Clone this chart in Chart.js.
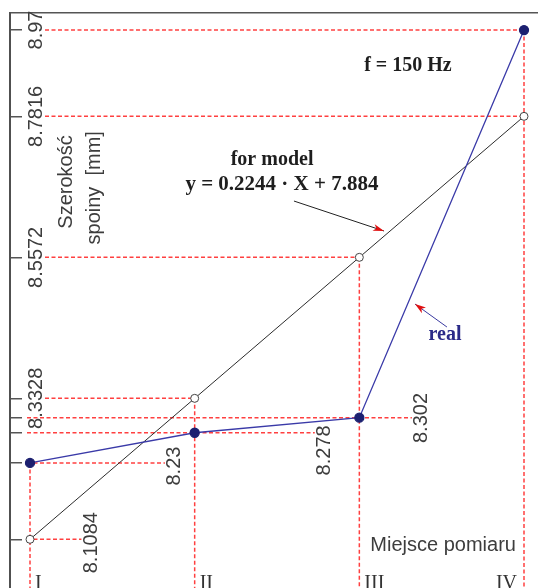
<!DOCTYPE html>
<html>
<head>
<meta charset="utf-8">
<script src="https://cdn.jsdelivr.net/npm/chart.js@4.4.1/dist/chart.umd.min.js"></script>
<style>
  html, body { margin: 0; padding: 0; overflow: hidden; background: #fff; }
</style>
</head>
<body>
<canvas id="weldChart" width="538" height="610"></canvas>
<script>
const places = ['I', 'II', 'III', 'IV'];
const placeX = [1, 2, 3, 4];
const modelWidth = [8.1084, 8.3328, 8.5572, 8.7816];
const realWidth = [8.23, 8.278, 8.302, 8.97];
const yTicks = [8.1084, 8.23, 8.278, 8.302, 8.3328, 8.5572, 8.7816, 8.97];
const axisLabelled = [8.3328, 8.5572, 8.7816, 8.97];

// values written next to the end of their guide line (x, y in data units)
const sideNotes = [
  { value: 8.1084, x: 1.373, y: 8.103 },
  { value: 8.23, x: 1.88, y: 8.225 },
  { value: 8.278, x: 2.79, y: 8.25 },
  { value: 8.302, x: 3.38, y: 8.3015 }
];

const SANS = '"Liberation Sans", Arial, sans-serif';
const SERIF = '"Liberation Serif", "Times New Roman", serif';

const notes = [
  { text: 'f = 150 Hz', x: 3.295, y: 8.8914, font: 'bold 20px ' + SERIF, color: '#1e1e1e' },
  { text: 'for model', x: 2.47, y: 8.7121, font: 'bold 20px ' + SERIF, color: '#1e1e1e' },
  { text: 'y = 0.2244 \u00b7 X + 7.884', x: 2.53, y: 8.6723, font: 'bold 21px ' + SERIF, color: '#1e1e1e' },
  { text: 'real', x: 3.52, y: 8.4336, font: 'bold 20px ' + SERIF, color: '#2a2a88' }
];
const arrows = [
  { from: [2.603, 8.6468], to: [3.15, 8.5991], color: '#222' },
  { from: [3.532, 8.4463], to: [3.338, 8.4829], color: '#3a3aa0' }
];
const yTitle = [
  { text: 'Szerokość', x: 1.219, y: 8.6771 },
  { text: 'spoiny  [mm]', x: 1.389, y: 8.6679 }
];
const xTitle = { text: 'Miejsce pomiaru', x: 3.951, y: 8.0993 };
const placeLabelY = 8.029;

// linear axis squeezed above breakAt, so the top value fits in the frame
class BrokenLinearScale extends Chart.LinearScale {
  static id = 'broken';
  static defaults = Chart.LinearScale.defaults;
  squeezeValue(v) {
    const { breakAt, squeeze } = this.options;
    return v > breakAt ? breakAt + (v - breakAt) * squeeze : v;
  }
  getPixelForValue(v) {
    return super.getPixelForValue(this.squeezeValue(v));
  }
  getValueForPixel(p) {
    const { breakAt, squeeze } = this.options;
    const w = super.getValueForPixel(p);
    return w > breakAt ? breakAt + (w - breakAt) / squeeze : w;
  }
}
Chart.register(BrokenLinearScale);

function noPadding(scale) {
  scale.paddingTop = scale.paddingBottom = scale.paddingLeft = scale.paddingRight = 0;
}

const guides = {
  id: 'guides',
  beforeDatasetsDraw(chart) {
    const { ctx, chartArea: a, scales: { x, y } } = chart;
    const seg = (x1, y1, x2, y2) => { ctx.beginPath(); ctx.moveTo(x1, y1); ctx.lineTo(x2, y2); ctx.stroke(); };
    ctx.save();
    ctx.strokeStyle = '#ff4040';
    ctx.lineWidth = 1.5;
    ctx.setLineDash([4, 2.5]);
    placeX.forEach((px, i) => {
      [modelWidth[i], realWidth[i]].forEach(v => {
        const note = sideNotes.find(n => n.value === v);
        const yy = y.getPixelForValue(v);
        const x0 = a.left + (axisLabelled.includes(v) ? 35 : 17);
        const x1 = note ? x.getPixelForValue(note.x) - 10 : x.getPixelForValue(px);
        seg(x0, yy, x1, yy);
      });
      const top = Math.max(modelWidth[i], realWidth[i]);
      const xx = x.getPixelForValue(px);
      seg(xx, y.getPixelForValue(top), xx, a.bottom);
    });
    ctx.restore();
  }
};

const labels = {
  id: 'labels',
  afterDatasetsDraw(chart) {
    const { ctx, scales: { x, y } } = chart;
    ctx.save();
    ctx.textBaseline = 'middle';
    ctx.textAlign = 'center';

    const rotated = (text, px, py) => {
      ctx.save();
      ctx.translate(px, py);
      ctx.rotate(-Math.PI / 2);
      ctx.fillText(text, 0, 0);
      ctx.restore();
    };

    ctx.font = '20px ' + SANS;
    ctx.fillStyle = '#3d3d3d';
    sideNotes.forEach(n => rotated(String(n.value), x.getPixelForValue(n.x), y.getPixelForValue(n.y)));
    yTitle.forEach(t => rotated(t.text, x.getPixelForValue(t.x), y.getPixelForValue(t.y)));

    ctx.textAlign = 'right';
    ctx.fillText(xTitle.text, x.getPixelForValue(xTitle.x), y.getPixelForValue(xTitle.y));

    ctx.font = '20px ' + SERIF;
    ctx.fillStyle = '#333';
    ctx.textBaseline = 'alphabetic';
    places.forEach((p, i) => {
      const last = i === places.length - 1;
      ctx.textAlign = last ? 'right' : 'left';
      ctx.fillText(p, x.getPixelForValue(placeX[i]) + (last ? -7 : 5), y.getPixelForValue(placeLabelY));
    });

    ctx.textAlign = 'center';
    ctx.textBaseline = 'middle';
    notes.forEach(n => {
      ctx.font = n.font;
      ctx.fillStyle = n.color;
      ctx.fillText(n.text, x.getPixelForValue(n.x), y.getPixelForValue(n.y));
    });

    arrows.forEach(ar => {
      const x1 = x.getPixelForValue(ar.from[0]), y1 = y.getPixelForValue(ar.from[1]);
      const x2 = x.getPixelForValue(ar.to[0]), y2 = y.getPixelForValue(ar.to[1]);
      ctx.strokeStyle = ar.color;
      ctx.lineWidth = 1;
      ctx.beginPath(); ctx.moveTo(x1, y1); ctx.lineTo(x2, y2); ctx.stroke();
      const ang = Math.atan2(y2 - y1, x2 - x1);
      const c = Math.cos(ang), s = Math.sin(ang);
      ctx.fillStyle = '#e01010';
      ctx.beginPath();
      ctx.moveTo(x2, y2);
      ctx.lineTo(x2 - 11 * c + 3.5 * s, y2 - 11 * s - 3.5 * c);
      ctx.lineTo(x2 - 8 * c, y2 - 8 * s);
      ctx.lineTo(x2 - 11 * c - 3.5 * s, y2 - 11 * s + 3.5 * c);
      ctx.closePath();
      ctx.fill();
    });
    ctx.restore();
  }
};

new Chart(document.getElementById('weldChart'), {
  type: 'line',
  data: {
    datasets: [
      {
        label: 'real',
        data: placeX.map((px, i) => ({ x: px, y: realWidth[i] })),
        borderColor: '#3a3aa8',
        borderWidth: 1.3,
        pointRadius: 4.5,
        pointBackgroundColor: '#1c2070',
        pointBorderColor: '#1c2070',
        tension: 0
      },
      {
        label: 'model',
        data: placeX.map((px, i) => ({ x: px, y: modelWidth[i] })),
        borderColor: '#2b2b2b',
        borderWidth: 1,
        pointRadius: 4,
        pointBackgroundColor: '#fff',
        pointBorderColor: '#444',
        pointBorderWidth: 1,
        tension: 0
      }
    ]
  },
  options: {
    responsive: false,
    animation: false,
    layout: { autoPadding: false, padding: { top: 13, left: 0, right: 0, bottom: 0 } },
    plugins: { legend: { display: false }, tooltip: { enabled: false } },
    scales: {
      x: {
        type: 'linear',
        position: 'top',
        min: 0.8785,
        max: 4.085,
        bounds: 'data',
        ticks: { display: false },
        grid: { display: false, drawTicks: false },
        border: { display: true, color: '#555', width: 1.5 },
        afterFit: s => { s.height = 0; noPadding(s); }
      },
      y: {
        type: 'broken',
        position: 'left',
        min: 7.9959,
        max: 8.9461,
        breakAt: 8.7816,
        squeeze: 0.7293,
        bounds: 'data',
        afterBuildTicks: s => { s.ticks = yTicks.map(v => ({ value: v })); },
        afterFit: s => { s.width = 10; noPadding(s); },
        ticks: {
          autoSkip: false,
          mirror: true,
          crossAlign: 'center',
          padding: -4,
          minRotation: 90,
          maxRotation: 90,
          color: '#3d3d3d',
          font: { family: SANS, size: 20 },
          callback: v => axisLabelled.includes(v) ? String(v) : ''
        },
        grid: { display: true, drawOnChartArea: false, drawTicks: true, tickLength: -12, color: '#555', lineWidth: 1.5 },
        border: { display: true, color: '#505050', width: 2 }
      }
    }
  },
  plugins: [guides, labels]
});
</script>
</body>
</html>
